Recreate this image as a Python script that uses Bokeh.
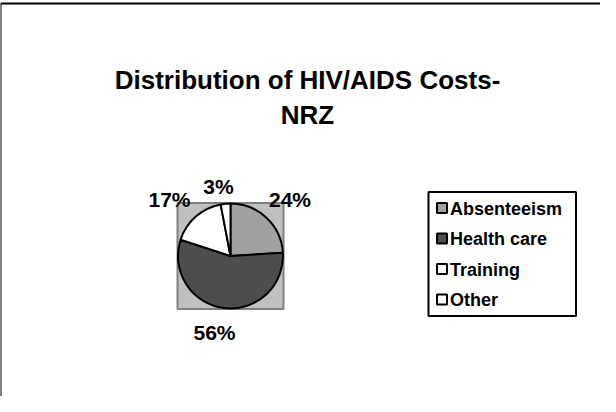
import math
from bokeh.plotting import figure
from bokeh.models import Range1d
from bokeh.core.properties import value
from bokeh.embed import file_html
from bokeh.resources import INLINE

# ---- data ----
categories = ["Absenteeism", "Health care", "Training", "Other"]
shares = [24, 56, 17, 3]
labels = ["24%", "56%", "17%", "3%"]
fills = ["#a0a0a0", "#4d4d4d", "#ffffff", "#ffffff"]
title_lines = ["Distribution of HIV/AIDS Costs-", "NRZ"]

W, H = 600, 396
FONT = "Liberation Sans"

p = figure(width=W, height=H, output_backend="svg", toolbar_location=None,
           x_range=Range1d(0, W), y_range=Range1d(0, H), min_border=0)
p.axis.visible = False
p.grid.visible = False
p.outline_line_color = None
p.background_fill_color = "white"
p.border_fill_color = "white"

def sy(Y):
    # page Y (top-down, includes 8px margin) -> data y (bottom-up)
    return 404 - Y

def sx(X):
    return X - 8

# outer frame (only left and top visible within the window)
p.line([sx(8), sx(8)], [sy(412), sy(11)], line_color="black", line_width=2)
p.line([sx(8), sx(616)], [sy(11), sy(11)], line_color="black", line_width=2)

# title
p.text(x=[sx(315), sx(315)], y=[sy(87), sy(122)], text=title_lines,
       text_font=value(FONT), text_font_style="bold", text_font_size="26px",
       text_align="center", text_baseline="middle", text_color="black")

# plot area square behind the pie
cx, cy, r = sx(238), sy(263.5), 52.5
p.rect(x=[cx], y=[cy], width=2 * r + 1, height=2 * r + 1,
       fill_color="#c0c0c0", line_color="#808080", line_width=2)

# pie slices (clockwise from 12 o'clock)
total = float(sum(shares))
cum = 0.0
for s, col in zip(shares, fills):
    a0 = math.pi / 2 - 2 * math.pi * (cum + s) / total
    a1 = math.pi / 2 - 2 * math.pi * cum / total
    p.wedge(x=cx, y=cy, radius=r, start_angle=a0, end_angle=a1,
            fill_color=col, line_color="black", line_width=2)
    cum += s

# data labels
lab_x = [sx(297.5), sx(222), sx(177), sx(226)]
lab_y = [sy(206.5), sy(340), sy(206.5), sy(193.5)]
p.text(x=lab_x, y=lab_y, text=labels, text_font=value(FONT),
       text_font_style="bold", text_font_size="21px", text_align="center",
       text_baseline="middle", text_color="black")

# legend
lx0, lx1, ly0, ly1 = sx(436), sx(583.5), sy(199.5), sy(323.5)
p.rect(x=[(lx0 + lx1) / 2], y=[(ly0 + ly1) / 2], width=lx1 - lx0,
       height=ly0 - ly1, fill_color="white", line_color="black", line_width=2)
item_Y = [215.5, 246, 276.5, 307]
p.rect(x=[sx(449.5)] * 4, y=[sy(Y) for Y in item_Y], width=10, height=10,
       fill_color=fills, line_color="black", line_width=2)
p.text(x=[sx(457.5)] * 4, y=[sy(Y + 0.5) for Y in item_Y], text=categories,
       text_font=value(FONT), text_font_style="bold", text_font_size="18px",
       text_align="left", text_baseline="middle", text_color="black")

open("out.html", "w").write(file_html(p, INLINE))
